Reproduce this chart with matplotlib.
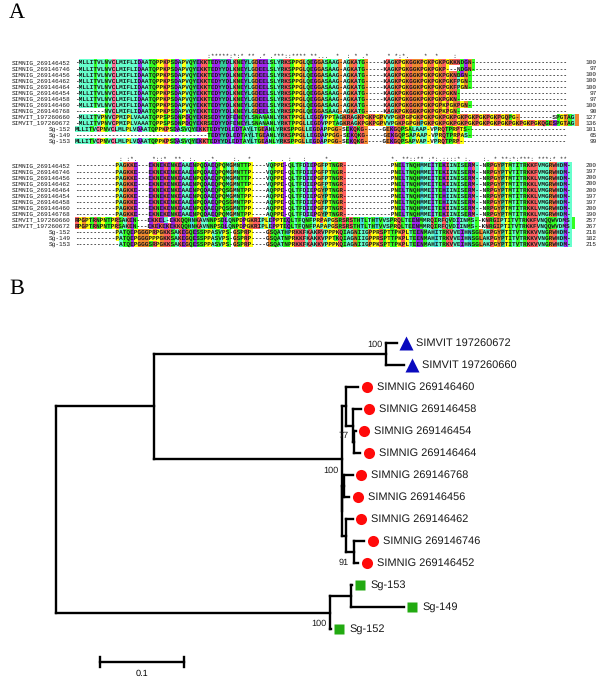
#!/usr/bin/env python
"""Two-panel figure: protein alignment (A) and neighbour-joining tree (B)."""
import matplotlib
matplotlib.use("Agg")
import matplotlib.pyplot as plt
import numpy as np
from matplotlib.colors import ListedColormap

# --- panel A data ---
ALN_LABELS = ["SIMNIG_269146452", "SIMNIG_269146746", "SIMNIG_269146456", "SIMNIG_269146462",
              "SIMNIG_269146464", "SIMNIG_269146454", "SIMNIG_269146458", "SIMNIG_269146460",
              "SIMNIG_269146768", "SIMVIT_197260660", "SIMVIT_197260672",
              "Sg-152", "Sg-149", "Sg-153"]
COUNTS_1 = [100, 97, 100, 100, 100, 97, 97, 100, 90, 127, 136, 101, 65, 99]
COUNTS_2 = [200, 197, 200, 200, 200, 197, 197, 200, 190, 257, 267, 218, 182, 215]

HEAD_NIG = "-MLLITVLNVCLMIFLIDAATQPPKPSDAPVQYEKKTEDYYDLKNEYLGDEELSLYRKSPPGLQEGGASAAG-AGKATG-----"
BLOCK_1 = [
    HEAD_NIG + "KAGKPGKGGKPGKPGKPGKKNDGN",
    HEAD_NIG + "KAGKPGKGGKPGKPGKP---NDGN",
    HEAD_NIG + "KAGKPGKGGKPGKPGKPGKNDGN",
    HEAD_NIG + "KAGKPGKGGKPGKPGKPGKFPGN",
    HEAD_NIG + "KAGKPGKGGKPGKPGKPGKFPGN",
    HEAD_NIG + "KAGKPGKGGKPGKPGKPGKN",
    HEAD_NIG + "KAGKPGKGGKPGKPGKPGKN",
    HEAD_NIG + "KAGKPGKGGKPGKPGPKPGKPGN",
    "--------NVCLMIFLIDAATQPPKPSDAPVQYEKKTEDYYDLKNEYLGDEELSLYRKSPPGLQEGGASAAG-AGKATG-----KAGKPGKGGKPGKPGPKPGN",
    "-MLLITVPNVCPMIPLVAAATQPPSPSDNPDQYEKRSEDYYDFENEYLSNANANLYRKTPPGLLEGDVPPTAGKRAGKPGKPGPVVPGKPGPGKPGKPGKPGKPGKPGKPGKPGKPGQPG----------SPGTAG",
    "-MLLITVPNVCPMIPLVAAATQPPSPSDNPDQYEKRSEDYYDFENEYLSNANANLYRKTPPGLLEGDVPPTAGKRAGKPGKPGPVVPGKPGPGHPGKPGKPGKPGKPGKPGKPGKPGKPGKPGKPGKQGESPGTAG",
    "MLLITVCPNVCLMLPLVDAATQPPKPSDASVQYEKKTEDYYDLEDTAYLTGEANLYRKSPPGLLEGDAPPGG-SEKQKG-----GEKGQPSALAAP-VPRQTPRPTS",
    "------------------------------------TEDYYDLEDTAYLTGEANLYRKSPPGLLEGDAPPGG-SEKQKG-----GEKGQPSAPAAP-VPRQTPRPAS",
    "MLLITVCPNVCLMLPLVDAATQPPKPSDASVQYEKKTEDYYDLEDTAYLTGEANLYRKSPPGLLEGDAPPGG-SEKQKG-----GEKGQPSAPVAP-VPRQTPRP",
]
BLOCK_2 = [
    "-----------PAGKKE---EKNEKENKEAAENPQDAEQPQMGMNTTP----VQPPE-QLTFDIEPGFPTNGR-------------PNELTNQHMMEITEKIINISERM--NRPGYPTMTITRKKFVMGRWHDM-",
    "-----------PAGKKE---EKNEKENKEAAENPQDAEQPQMGMNTTP----VQPPE-QLTFDIEPGFPTNGR-------------PNELTNQHMMEITEKIINISERM--NRPGYPTVTITRKKFVMGRWHDM-",
    "-----------PAGKKE---EKNEKENKEAAENPQDAEQPQMGMNTTP----VQPPE-QLTFDIEPGFPTNGR-------------PNELTNQHMMEITEKIINISERM--NRPGYPTMTITRKKLVMGRWHDM-",
    "-----------PAGKKE---EKNEKENKEAAENPQDAEQPQMGMNTTP----VQPPE-QLTFDIEPGFPTNGR-------------PNELTNQHMMEITEKIINISERM--NRPGYPTMTITRKKLVMGRWHDM-",
    "-----------PAGKKE---EKNEKENKEAAENPQDAEQPQSGMNTPP----AQPPE-QLTFDIEPGYPTNGR-------------PNELTNQHMMEITEHIINISERM--NRPGYPTMTITRKKLVMGRWHDM-",
    "-----------PAGKKE---EKNEKENKEAAENPQDAEQPQMGMNTPP----AQPPE-QLTFDIEPGYPTNGR-------------PNELTNQHMMEITEHIINISERM--NRPGYPTMTITRKKLVMGRWHDM-",
    "-----------PAGKKE---EKNEKENKEAAENPQDAEQPQSGMNTPP----AQPPE-QLTFDIEPGYPTNGR-------------PNELTNQHMMEITEHIINISERM--NRPGYPTMTITRKKLVMGRWHDM-",
    "-----------PAGKKE---EKNEKENKEAAENPQDAEQPQSGMNTPP----AQPPE-QLTFDIEPGFPTNGR-------------PNELTNQHMMEITEKIINISERM--NRPGYPTMTITRKKLVMGRWHDM-",
    "-----------PAGKKE---EKNEKENKEAAENPQDAEQPQMGMNTPP----AQPPE-QLTFDIEPGYPTNGR-------------PNELTNQHMMEITEKIINISERM--NRPGYPTMTITRKKLVMGRWHDM-",
    "RPGPTRNPNTPRSAKEN---EKKEL-EKKQQHNKAVNNPSDLQNPDPGKRIPLEPPTEQLTFQNFPRPAPGSRSRSTHTLTHTVVSPRQLTEENMMRQIRFQVDIINMS--KNRGIPTITVTRKKFVNQQWVDMS",
    "RPGPTRNPNTPRSAKEN---EKEKEKEKKQQHNKAVNNPSDLQNPDPGKRIPLEPPTEQLTFQNFPAPAPGSRSRSTHTLTHTVVSPRQLTEENMMRQIRFQVDIINMS--KNRGIPTITVTRKKFVNQQWVDMS",
    "-----------PATQEPGGGPRPGKKSAKEGQESSPPASVPS-GSPRP----GSQATHPRKKFKAKRVPPPKQIAGNIIGPPRSPTTPKPLTEENMAHITRKVVEIHNSGLAKPGYPTITVTRKKVVNGRWHDM-",
    "-----------PATQEPGGGPPPGKKSAKEGQESSPPASVPS-GSPRP----GSQATNPRKKFKAKKVPPTKQIAGNIIGPPRSPTTPKPLTEENMAHITRKVVEIHNSGLAKPGYPTITVTRKKVVNGRWHDM-",
    "------------ATQEPGGGSRPGKKSAKEGQESSPPASVPS-GSPRP----GSQATNPRKKFKAKKVPPPKQIAGNIIGPPKSPTTPKPLTEENMAHITRKVVEIHNSGLAKPGYPTITVTRKKVVNGRWHDM-",
]
CONS_1 = " " * 36 + ":*****:*:* ** .* .***::**** **...  *  : * .*     * *:*.    *  *    :"
CONS_2 = " " * 12 + ": :*.    *::*  **. :.  ..*.    :.  *     .  . :   :     *.                *. **::** :*:.::::* :.   :. * **:*:***: ***:* **"

AA_GROUPS = {"AVLIMF": "#66FFCC", "NQST": "#33FF22", "KR": "#FF6060", "DE": "#A028F0",
             "P": "#FFFF10", "G": "#F08A30", "Y": "#33CC99", "H": "#44DDDD",
             "W": "#66FFCC", "C": "#FF7098", "-": "#FFFFFF"}

# --- panel B data: branch lengths in substitutions per site ---
LEAVES = ["SIMVIT 197260672", "SIMVIT 197260660", "SIMNIG 269146460", "SIMNIG 269146458",
          "SIMNIG 269146454", "SIMNIG 269146464", "SIMNIG 269146768", "SIMNIG 269146456",
          "SIMNIG 269146462", "SIMNIG 269146746", "SIMNIG 269146452", "Sg-153", "Sg-149", "Sg-152"]
TREE = {"root": [("n1", 0.117), ("sg", 0.326)],
        "n1": [("vit", 0.276), ("nig", 0.223)],
        "vit": [("SIMVIT 197260672", 0.013), ("SIMVIT 197260660", 0.021)],
        "nig": [("c1", 0.005), ("d1", 0.001)],
        "c1": [("SIMNIG 269146460", 0.015), ("c2", 0.009)],
        "c2": [("SIMNIG 269146458", 0.009), ("c3", 0.001)],
        "c3": [("SIMNIG 269146454", 0.002), ("SIMNIG 269146464", 0.007)],
        "d1": [("d2", 0.002), ("d3", 0.004)],
        "d2": [("SIMNIG 269146768", 0.010), ("SIMNIG 269146456", 0.006)],
        "d3": [("SIMNIG 269146462", 0.008), ("d4", 0.010)],
        "d4": [("SIMNIG 269146746", 0.012), ("SIMNIG 269146452", 0.005)],
        "sg": [("sg2", 0.025), ("Sg-152", 0.001)],
        "sg2": [("Sg-153", 0.001), ("Sg-149", 0.063)]}
BOOTSTRAP = {"vit": "100", "c2": "77", "nig": "100", "d4": "91", "sg": "100"}
SCALE_LEN = 0.1

# layout in image pixels
CHAR_W, ROW_H = 3.7, 6.05
ALN_X = 75
BLOCK_Y = {1: 59.7, 2: 162.7}
COL_N = 136
TREE_X, LEAF_Y0, LEAF_DY, PX_PER_UNIT = 56, 343, 22, 840
BOOT_OFFSET = {"vit": (-4, -9), "c2": (-5, 10), "nig": (-3, 12), "d4": (-5, 11), "sg": (-3, 11)}

plt.rcParams["font.family"] = ["Liberation Sans", "DejaVu Sans"]
plt.rcParams["text.hinting"] = "no_hinting"


def draw_block(ax, rows, counts, cons, y0, cmap, code):
    matrix = np.array([[code[c] for c in r.ljust(COL_N, "-")[:COL_N]] for r in rows])
    x1 = ALN_X + COL_N * CHAR_W
    ax.imshow(matrix, cmap=cmap, vmin=0, vmax=len(cmap.colors) - 1, interpolation="nearest",
              aspect="auto", extent=(ALN_X, x1, y0 + len(rows) * ROW_H, y0), zorder=1)
    mono = dict(family="Liberation Mono", fontsize=4.44, va="center", color="#1a1a1a", zorder=3)
    for i, r in enumerate(rows):
        y = y0 + (i + 0.5) * ROW_H
        ax.text(ALN_X, y, r.ljust(COL_N - 2, "-"), ha="left", fontweight="bold", **mono)
        ax.text(71, y, ALN_LABELS[i], ha="right", **mono)
        ax.text(597, y, str(counts[i]), ha="right", **mono)
    ax.text(ALN_X, y0 - 3.5, cons, ha="left", **mono)


def layout_tree():
    xs, ys = {}, {}
    leaf_y = {n: LEAF_Y0 + LEAF_DY * i for i, n in enumerate(LEAVES)}

    def visit(name, x):
        xs[name] = x
        if name in leaf_y:
            ys[name] = leaf_y[name]
            return
        for child, length in TREE[name]:
            visit(child, x + length * PX_PER_UNIT)
        first, last = TREE[name][0][0], TREE[name][-1][0]
        ys[name] = (ys[first] + ys[last]) / 2

    visit("root", TREE_X)
    return xs, ys


def main():
    fig = plt.figure(figsize=(6.0, 6.82), dpi=100)
    ax = fig.add_axes([0, 0, 1, 1])

    # panel A
    letters = list(AA_GROUPS)
    colors = [AA_GROUPS[g] for g in letters]
    code = {aa: i for i, g in enumerate(letters) for aa in g}
    cmap = ListedColormap(colors)
    draw_block(ax, BLOCK_1, COUNTS_1, CONS_1, BLOCK_Y[1], cmap, code)
    draw_block(ax, BLOCK_2, COUNTS_2, CONS_2, BLOCK_Y[2], cmap, code)

    # panel B
    xs, ys = layout_tree()
    line = dict(color="black", lw=1.7, solid_capstyle="projecting", zorder=2)
    for parent, children in TREE.items():
        ax.plot([xs[parent]] * 2, [ys[children[0][0]], ys[children[-1][0]]], **line)
        for child, _ in children:
            ax.plot([xs[parent], xs[child]], [ys[child]] * 2, **line)
    for name in LEAVES:
        mx = xs[name] + 8.5
        if name.startswith("SIMVIT"):
            ax.plot(mx, ys[name], marker="^", ms=9.5, color="#0A0ABE", mec="none", zorder=3)
        elif name.startswith("SIMNIG"):
            ax.plot(mx, ys[name], marker="o", ms=8, color="#FF0A0A", mec="none", zorder=3)
        else:
            ax.plot(mx, ys[name], marker="s", ms=7, color="#22AA11", mec="none", zorder=3)
        ax.text(mx + 10, ys[name], name, fontsize=7.9, va="center", ha="left", color="#1a1a1a")
    for node, val in BOOTSTRAP.items():
        dx, dy = BOOT_OFFSET[node]
        ax.text(xs[node] + dx, ys[node] + dy, val, fontsize=6.6, va="center", ha="right", color="#1a1a1a")

    # scale bar
    sx0, sx1, sy = 100, 100 + SCALE_LEN * PX_PER_UNIT, 662
    ax.plot([sx0, sx1], [sy, sy], color="black", lw=1.7)
    for sx in (sx0, sx1):
        ax.plot([sx, sx], [sy - 5, sy + 5], color="black", lw=1.7)
    ax.text((sx0 + sx1) / 2, sy + 12, str(SCALE_LEN), fontsize=6.6, ha="center", va="center")

    for label, y in (("A", 13), ("B", 289)):
        ax.text(9, y, label, family="Liberation Serif", fontsize=16, ha="left", va="center")

    ax.set_xlim(0, 600)
    ax.set_ylim(682, 0)
    ax.axis("off")
    fig.savefig("out.png", dpi=100)
    plt.close(fig)


if __name__ == "__main__":
    main()
